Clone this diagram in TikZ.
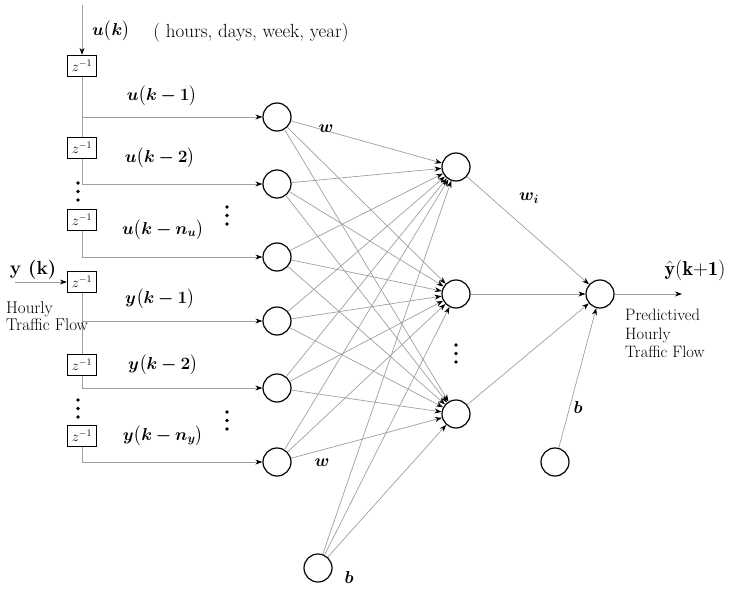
\documentclass[tikz,border=0pt]{standalone}
\usepackage{amsmath,amssymb}
\usepackage{fontspec}
\usepackage{bm}
\usetikzlibrary{arrows.meta, positioning}

\begin{document}
\begin{tikzpicture}[x=1pt, y=-1pt, >={Stealth[length=7pt, width=5pt, color=black]}]
    \useasboundingbox (0,0) rectangle (729,589);
    \tikzset{
        neuron/.style={draw, circle, line width=1.2pt, minimum size=28pt, inner sep=0pt},
        delay/.style={draw, line width=1.3pt, minimum width=29pt, minimum height=21pt, inner sep=0pt, font=\fontsize{14}{16}\selectfont},
        link/.style={draw=gray!75, line width=0.7pt},
        lbl/.style={font=\fontsize{16.5}{19}\selectfont},
    }

    % Khoi tre z^-1
    \node[delay] (d1) at (82,66)  {$z^{-1}$};
    \node[delay] (d2) at (82,148) {$z^{-1}$};
    \node[delay] (d3) at (82,220) {$z^{-1}$};
    \node[delay] (d4) at (82,282) {$z^{-1}$};
    \node[delay] (d5) at (82,365) {$z^{-1}$};
    \node[delay] (d6) at (82,436) {$z^{-1}$};

    % Diem re nhanh
    \coordinate (top) at (82,5);
    \coordinate (yin) at (15,282);
    \coordinate (t1) at (82,117);
    \coordinate (t2) at (82,184);
    \coordinate (t3) at (82,257);
    \coordinate (t4) at (82,321);
    \coordinate (t5) at (82,388);
    \coordinate (t6) at (82,462);
    \coordinate (yout) at (682,294);

    % Lop vao
    \node[neuron] (i1) at (277,117) {};
    \node[neuron] (i2) at (277,184) {};
    \node[neuron] (i3) at (277,257) {};
    \node[neuron] (i4) at (277,321) {};
    \node[neuron] (i5) at (277,388) {};
    \node[neuron] (i6) at (277,462) {};

    % Lop an va lop ra
    \node[neuron] (h1) at (456,167) {};
    \node[neuron] (h2) at (456,294) {};
    \node[neuron] (h3) at (456,414) {};
    \node[neuron] (o) at (600,294) {};
    \node[neuron] (b1) at (318,568) {};
    \node[neuron] (b2) at (555,462) {};

    % Duong tre
    \draw[link, ->] (top) -- (d1);
    \draw[link] (d1) -- (d2);
    \draw[link] (d2) -- (t2);
    \draw[link] (d3) -- (t3);
    \draw[link, ->] (yin) -- (d4);
    \draw[link] (d4) -- (d5);
    \draw[link] (d5) -- (t5);
    \draw[link] (d6) -- (t6);

    % Dau ba cham doc
    \foreach \px/\py in {78/183, 227/207, 78/400, 227/412, 456/345}
        \foreach \dy in {0, 8.5, 17}
            \fill (\px,\py+\dy) circle (1.9pt);

    % Tin hieu vao
    \foreach \k in {1,...,6}
        \draw[link, ->] (t\k) -- (i\k);

    % Ket noi day du
    \foreach \k in {1,...,6}
        \foreach \h in {1,2,3}
            \draw[link, ->] (i\k) -- (h\h);
    \foreach \h in {1,2,3}
        \draw[link, ->] (b1) -- (h\h);
    \foreach \h in {1,2,3}
        \draw[link, ->] (h\h) -- (o);
    \draw[link, ->] (b2) -- (o);
    \draw[link, ->] (o) -- (yout);

    % Nhan
    \node[lbl] (uk) at (111,31) {$\bm{u\big(k\big)}$};
    \node[font=\fontsize{19}{22}\selectfont] (unit) at (251,33) {( hours, days, week, year)};
    \node[lbl] (u1) at (162,96)  {$\bm{u\big(k - 1\big)}$};
    \node[lbl] (u2) at (160,158) {$\bm{u\big(k - 2\big)}$};
    \node[lbl] (un) at (163,230) {$\bm{u\big(k - n_u\big)}$};
    \node[font=\fontsize{19}{21}\selectfont\bfseries] (yk) at (33,270) {y (k)};
    \node[font=\fontsize{17}{17}\selectfont, align=left, anchor=west, inner sep=0pt] (ytxt) at (6,316) {Hourly\\Traffic Flow};
    \node[lbl] (y1) at (160,299) {$\bm{y\big(k - 1\big)}$};
    \node[lbl] (y2) at (163,365) {$\bm{y\big(k - 2\big)}$};
    \node[lbl] (yn) at (163,436) {$\bm{y\big(k - n_y\big)}$};
    \node[lbl] (w1) at (326,129) {$\bm{w}$};
    \node[lbl] (w2) at (322,463) {$\bm{w}$};
    \node[lbl] (wi) at (529,198) {$\bm{w_i}$};
    \node[lbl] (bb1) at (349,577) {$\bm{b}$};
    \node[lbl] (bb2) at (578,407) {$\bm{b}$};
    \node[font=\fontsize{20}{22}\selectfont, inner sep=0pt] (yhat) at (695,270) {$\hat{\mathbf{y}}\mathbf{(k{+}1)}$};
    \node[font=\fontsize{16.5}{18.5}\selectfont, align=left, anchor=north west, inner sep=0pt] (ptxt) at (625,309) {Predictived\\Hourly\\Traffic Flow};
\end{tikzpicture}
\end{document}
